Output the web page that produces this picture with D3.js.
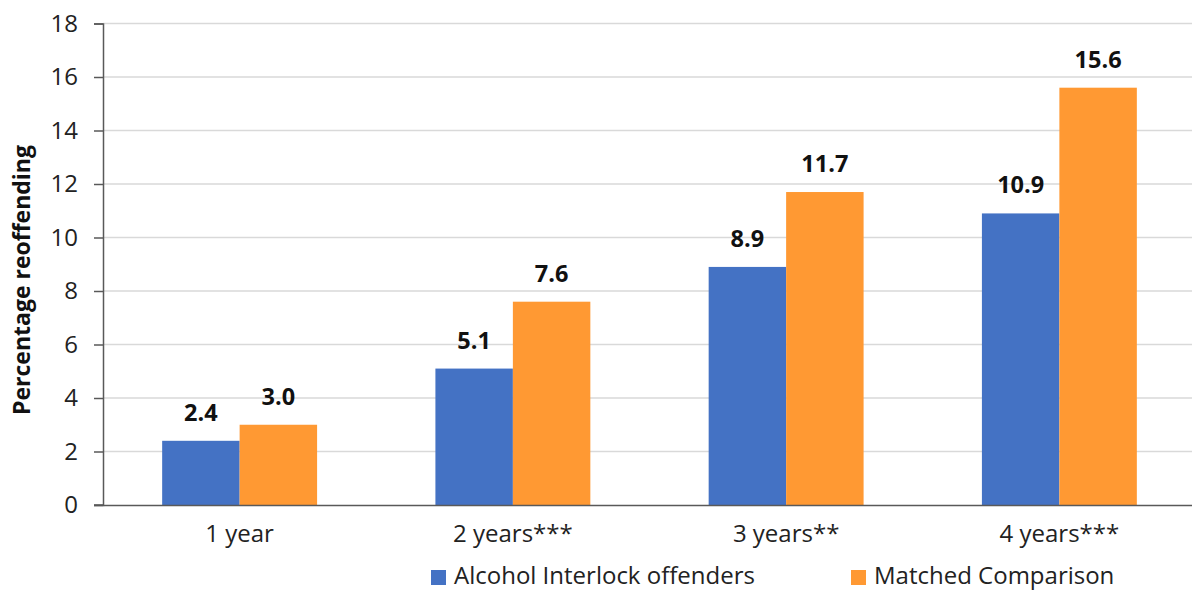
<!DOCTYPE html>
<html>
<head>
<meta charset="utf-8">
<script src="https://cdn.jsdelivr.net/npm/d3@7"></script>
<style>
  html, body { margin: 0; padding: 0; background: #fff; }
  svg { display: block; font-family: "Open Sans", sans-serif; }
</style>
</head>
<body>
<svg id="chart" width="1192" height="592"></svg>
<script>
// Reoffending rates by follow-up period
const categories = ["1 year", "2 years***", "3 years**", "4 years***"];
const interlock = [2.4, 5.1, 8.9, 10.9];
const comparison = [3.0, 7.6, 11.7, 15.6];
const seriesNames = ["Alcohol Interlock offenders", "Matched Comparison"];
const yTicks = [0, 2, 4, 6, 8, 10, 12, 14, 16, 18];

const colors = ["#4472C4", "#FF9933"];
const FONT = "'Open Sans', sans-serif";
const svg = d3.select("#chart");
const margin = { top: 23.5, left: 103, bottom: 87 };
const H = 592;
const innerW = 1093;
const innerH = H - margin.top - margin.bottom;

const g = svg.append("g").attr("transform", `translate(${margin.left},${margin.top})`);

const x0 = d3.scaleBand().domain(categories).range([0, innerW]).paddingInner(0.433).paddingOuter(0.2165);
const x1 = d3.scaleBand().domain(seriesNames).range([0, x0.bandwidth()]);
const y = d3.scaleLinear().domain([0, 18]).range([innerH, 0]);

// gridlines
g.append("g").selectAll("line").data(yTicks.filter(t => t > 0)).join("line")
  .attr("x1", 0).attr("x2", innerW)
  .attr("y1", d => y(d)).attr("y2", d => y(d))
  .attr("stroke", "#d9d9d9").attr("stroke-width", 1.5);

// y axis
const yAxis = g.append("g")
  .call(d3.axisLeft(y).tickValues(yTicks).tickSize(9).tickPadding(16));
yAxis.select(".domain").attr("stroke", "#595959").attr("stroke-width", 1.5);
yAxis.selectAll(".tick line").attr("stroke", "#595959").attr("stroke-width", 1.5);
yAxis.selectAll(".tick text").attr("font-size", 24).attr("fill", "#222").attr("font-family", FONT);

// bars
const data = categories.map((c, i) => ({ cat: c, vals: [interlock[i], comparison[i]] }));
const groups = g.append("g").selectAll("g").data(data).join("g")
  .attr("transform", d => `translate(${x0(d.cat)},0)`);

groups.selectAll("rect").data(d => d.vals.map((v, j) => ({ v, j }))).join("rect")
  .attr("x", d => x1(seriesNames[d.j]))
  .attr("y", d => y(d.v))
  .attr("width", x1.bandwidth())
  .attr("height", d => innerH - y(d.v))
  .attr("fill", d => colors[d.j]);

// value labels
groups.selectAll("text").data(d => d.vals.map((v, j) => ({ v, j }))).join("text")
  .attr("x", d => x1(seriesNames[d.j]) + x1.bandwidth() / 2)
  .attr("y", d => y(d.v) - 20)
  .attr("text-anchor", "middle")
  .attr("font-size", 23.5).attr("font-weight", "bold").attr("fill", "#111")
  .text(d => d.v.toFixed(1));

// x axis
const xAxis = g.append("g").attr("transform", `translate(0,${innerH})`)
  .call(d3.axisBottom(x0).tickSize(0).tickPadding(20));
xAxis.select(".domain").attr("stroke", "#595959").attr("stroke-width", 1.5);
xAxis.selectAll(".tick text").attr("font-size", 24).attr("fill", "#222").attr("font-family", FONT);
g.append("line").attr("x1", -9).attr("x2", 0).attr("y1", innerH).attr("y2", innerH)
  .attr("stroke", "#595959").attr("stroke-width", 1.5);

// y axis title
svg.append("text")
  .attr("transform", `translate(30,${280}) rotate(-90)`)
  .attr("text-anchor", "middle")
  .attr("font-size", 23).attr("font-weight", "bold").attr("fill", "#111")
  .text("Percentage reoffending");

// legend
const legendItems = [{ x: 431, name: seriesNames[0], c: colors[0] }, { x: 851, name: seriesNames[1], c: colors[1] }];
const legend = svg.append("g").selectAll("g").data(legendItems).join("g")
  .attr("transform", d => `translate(${d.x},570)`);
legend.append("rect").attr("width", 15).attr("height", 15).attr("fill", d => d.c);
legend.append("text").attr("x", 23).attr("y", 14).attr("font-size", 24).attr("fill", "#222")
  .text(d => d.name);
</script>
</body>
</html>
